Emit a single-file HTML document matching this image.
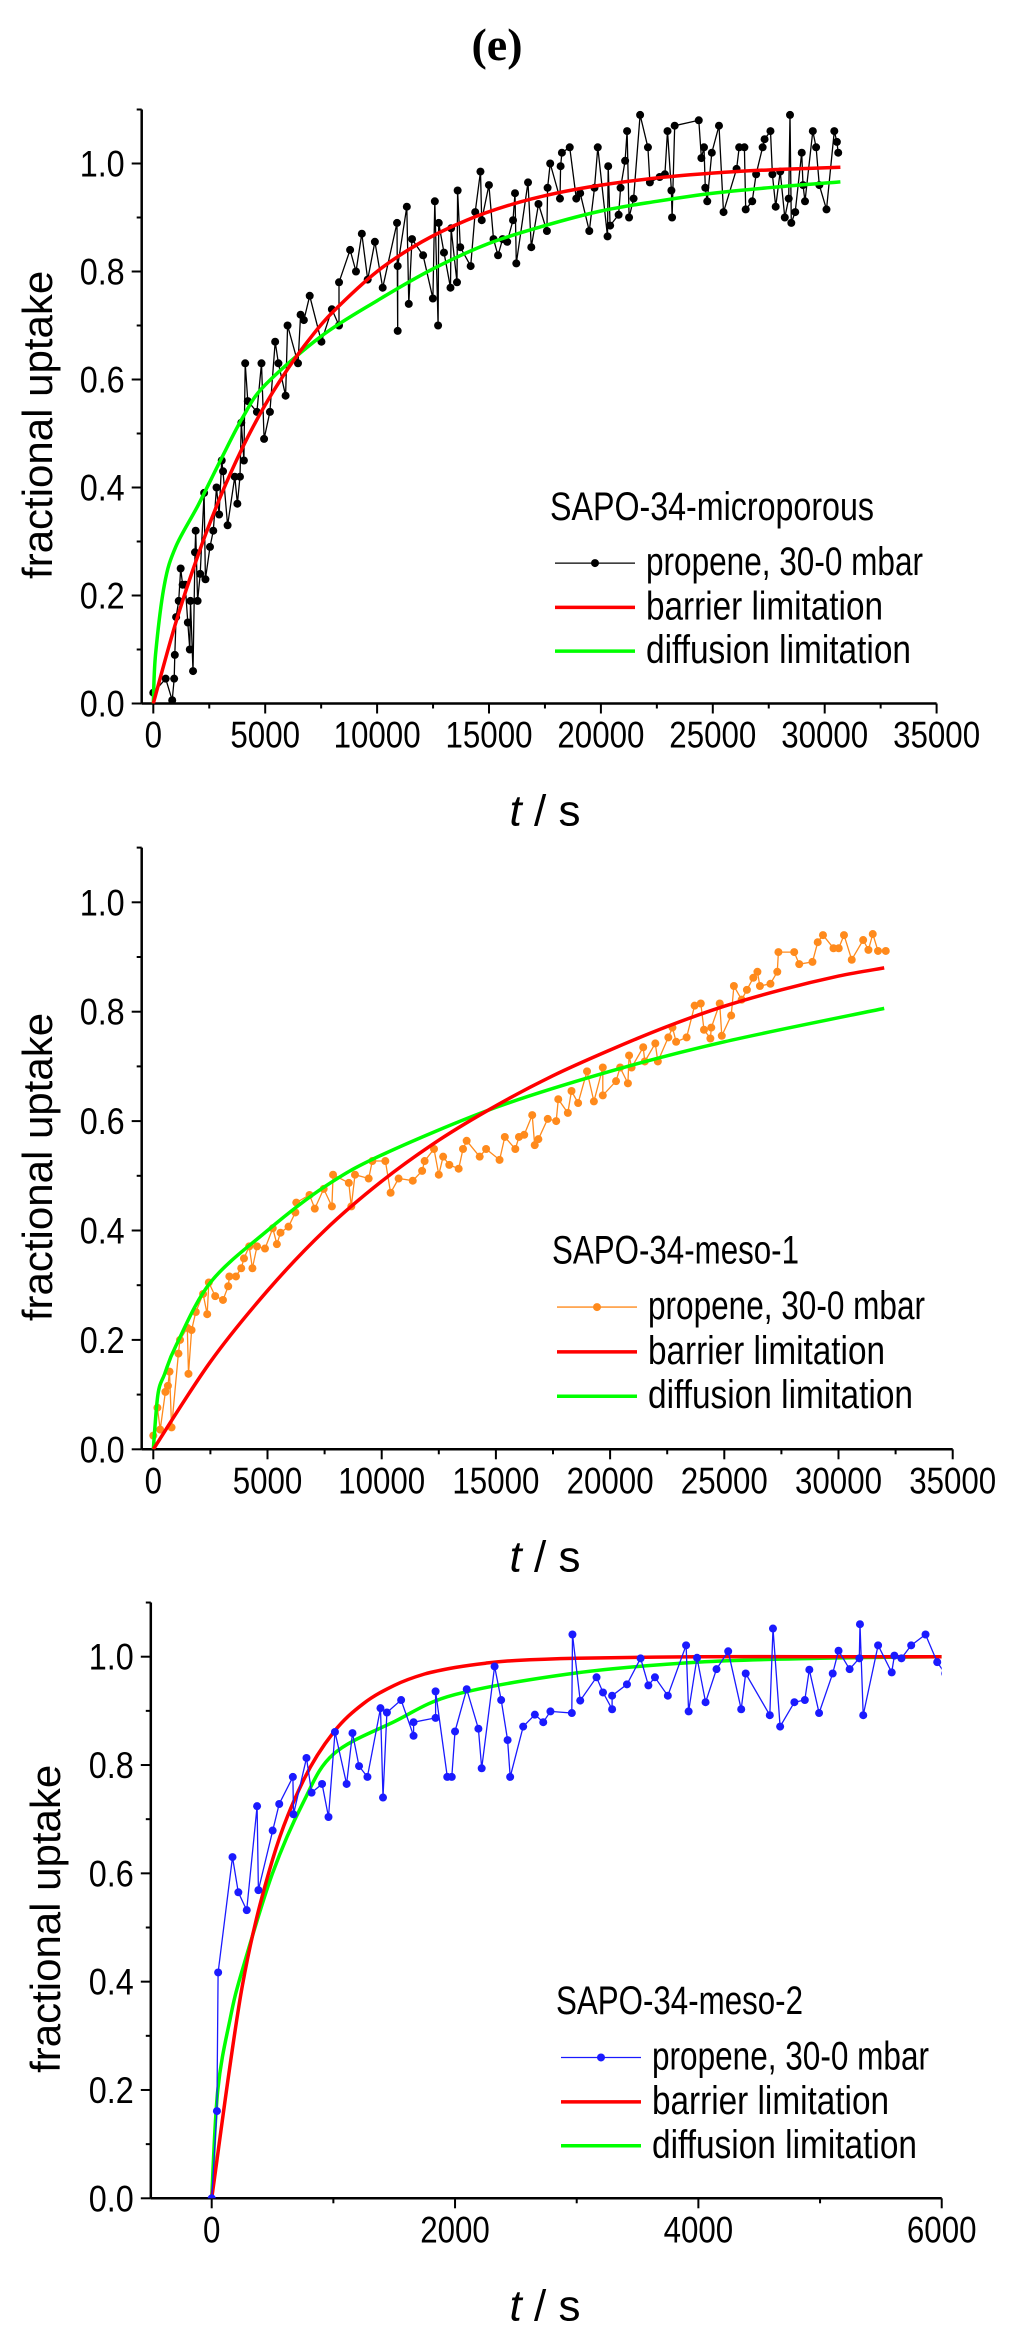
<!DOCTYPE html>
<html><head><meta charset="utf-8">
<style>
html,body{margin:0;padding:0;background:#fff;}
svg{display:block;}
text{font-family:"Liberation Sans",Arial,sans-serif;fill:#000;}
</style></head>
<body>
<svg id="fig" xmlns="http://www.w3.org/2000/svg" width="1024" height="2339" viewBox="0 0 1024 2339">
<rect width="1024" height="2339" fill="#fff"/>
<text x="497" y="60" text-anchor="middle" style="font-family:'Liberation Serif',serif;font-weight:bold;font-size:46px">(e)</text>
</svg>
<script>
// ---------- Chart 1: SAPO-34-microporous ----------
const c1T = [0,553,845,932,961,1019,1136,1223,1310,1427,1543,1631,1660,1776,1864,1893,1980,2097,2271,2330,2533,2679,2825,2941,3058,3116,3320,3640,3756,3873,3931,4048,4106,4222,4630,4834,4950,5212,5445,5591,5911,5999,6465,6581,6727,6989,7513,7979,8299,8299,8794,9056,9318,9580,9901,10250,10891,10920,10920,11328,11415,11561,12056,12492,12580,12725,12754,12988,13279,13308,13570,13599,13716,14181,14385,14618,14676,14997,15201,15404,15608,15812,16074,16162,16220,16744,16890,17210,17588,17618,17734,18171,18200,18258,18608,18899,19074,19481,19714,19860,20297,20326,20413,20792,20879,21083,21170,21258,21461,21752,22102,22189,22626,22859,22976,23150,23180,23296,24373,24490,24606,24665,24752,24956,25276,25480,26062,26179,26412,26470,26761,26936,27227,27314,27576,27663,27810,28013,28217,28392,28450,28508,28683,28974,29032,29120,29469,29615,29760,30080,30429,30545,30604,30691];
const c1Y = [0.02,0.046,0.006,0.046,0.09,0.16,0.19,0.25,0.22,0.22,0.15,0.10,0.19,0.06,0.28,0.32,0.19,0.24,0.39,0.23,0.29,0.32,0.40,0.35,0.45,0.43,0.33,0.42,0.37,0.42,0.52,0.45,0.63,0.56,0.54,0.63,0.49,0.54,0.67,0.63,0.57,0.70,0.63,0.72,0.71,0.755,0.67,0.73,0.70,0.78,0.84,0.80,0.87,0.785,0.855,0.77,0.89,0.69,0.81,0.92,0.74,0.86,0.83,0.75,0.93,0.70,0.89,0.835,0.77,0.88,0.78,0.95,0.845,0.81,0.91,0.985,0.895,0.96,0.86,0.83,0.86,0.855,0.895,0.945,0.815,0.965,0.845,0.925,0.875,0.955,1.0,0.935,0.995,1.02,1.03,0.935,0.945,0.875,0.955,1.03,0.865,0.995,0.885,0.905,0.955,1.005,1.06,0.90,0.935,1.09,1.03,0.965,0.975,0.98,1.06,0.95,0.90,1.07,1.08,1.01,1.03,0.955,0.93,1.02,1.07,0.91,0.99,1.03,1.03,0.915,0.93,0.98,1.03,1.045,1.06,0.98,0.92,0.985,0.90,0.935,1.09,0.89,0.91,1.02,0.96,0.93,1.06,1.03,0.96,0.915,1.06,1.04,1.02];
const c1BarT = [0,1000,2000,3000,4000,5000,6000,7000,8000,10000,12000,14000,16000,18000,20000,22000,24000,26000,28000,30700];
const c1BarY = [0,0.149,0.275,0.383,0.475,0.553,0.619,0.676,0.724,0.800,0.855,0.895,0.924,0.945,0.960,0.971,0.979,0.985,0.989,0.993];
const c1DifT = [0,100,495,1000,2000,3000,4000,5000,7500,10000,12500,15000,17500,20000,22500,25000,28000,30700];
const c1DifY = [0,0.09,0.22,0.29,0.367,0.45,0.53,0.59,0.68,0.746,0.805,0.852,0.885,0.912,0.93,0.945,0.957,0.966];

// ---------- Chart 2: SAPO-34-meso-1 ----------
const c2T = [0,180,300,530,640,710,800,1100,1170,1490,1540,1675,1860,2180,2360,2430,2710,3050,3280,3330,3620,3850,3970,4200,4340,4540,4890,5230,5410,5570,5920,6220,6260,6840,7070,7460,7820,7870,8560,8670,8830,9430,9590,10160,10390,10740,11360,11770,11880,12290,12500,12690,12960,13370,13560,13720,14290,14570,15160,15390,15850,16010,16240,16590,16700,16860,17270,17640,17730,18150,18310,18600,18990,19290,19680,19680,20260,20440,20780,20830,20940,21450,21520,21980,22090,22550,22730,22890,23350,23700,23970,24110,24390,24430,24800,24890,25300,25420,25760,25990,26270,26450,26560,27020,27320,27370,28060,28280,28860,29090,29320,29780,30010,30240,30580,31080,31310,31500,31730,32070];
const c2Y = [0.025,0.076,0.036,0.105,0.116,0.142,0.04,0.175,0.2,0.222,0.138,0.218,0.251,0.284,0.247,0.305,0.28,0.273,0.298,0.316,0.316,0.331,0.349,0.371,0.331,0.371,0.367,0.404,0.375,0.396,0.407,0.433,0.451,0.465,0.44,0.476,0.444,0.502,0.487,0.444,0.502,0.495,0.527,0.527,0.469,0.495,0.491,0.509,0.527,0.549,0.502,0.535,0.52,0.513,0.549,0.564,0.535,0.549,0.529,0.571,0.549,0.571,0.575,0.611,0.556,0.567,0.604,0.6,0.64,0.615,0.655,0.633,0.691,0.636,0.698,0.647,0.673,0.698,0.669,0.72,0.698,0.735,0.709,0.742,0.709,0.753,0.771,0.745,0.753,0.811,0.815,0.767,0.751,0.771,0.815,0.756,0.793,0.847,0.822,0.84,0.862,0.873,0.847,0.851,0.873,0.909,0.909,0.887,0.891,0.927,0.94,0.916,0.916,0.94,0.895,0.931,0.913,0.942,0.911,0.911];
const c2BarT = [0,2500,5000,7500,10000,12500,15000,17500,20000,22500,25000,27500,30000,32000];
const c2BarY = [0,0.16,0.29,0.40,0.49,0.565,0.628,0.683,0.73,0.773,0.81,0.84,0.865,0.88];
const c2DifT = [0,200,500,1000,2500,5000,7500,10000,15000,20000,25000,32000];
const c2DifY = [0,0.1,0.138,0.19,0.305,0.40,0.48,0.538,0.625,0.691,0.745,0.806];

// ---------- Chart 3: SAPO-34-meso-2 ----------
const c3T = [0,43,53,171,219,288,373,384,501,555,667,672,779,821,907,960,1013,1109,1157,1211,1280,1387,1408,1440,1557,1659,1659,1840,1840,1936,1973,2000,2096,2192,2219,2325,2379,2432,2453,2560,2656,2725,2784,2960,2965,3029,3163,3216,3291,3291,3413,3525,3589,3643,3749,3899,3920,3989,4059,4149,4245,4352,4389,4587,4613,4672,4789,4875,4912,4992,5104,5152,5243,5323,5328,5355,5477,5589,5611,5669,5749,5867,5963,6027];
const c3Y = [0,0.161,0.417,0.63,0.565,0.532,0.724,0.569,0.679,0.728,0.778,0.709,0.813,0.749,0.765,0.704,0.861,0.765,0.859,0.798,0.778,0.905,0.74,0.897,0.92,0.854,0.879,0.887,0.936,0.778,0.778,0.862,0.94,0.867,0.794,0.982,0.92,0.846,0.778,0.871,0.893,0.879,0.899,0.896,1.041,0.919,0.962,0.934,0.903,0.928,0.949,0.997,0.947,0.962,0.928,1.021,0.899,0.998,0.916,0.977,1.01,0.903,0.969,0.892,1.052,0.871,0.916,0.92,0.976,0.896,0.969,1.011,0.977,0.997,1.06,0.892,1.021,0.971,1.002,0.997,1.021,1.041,0.99,0.969];
const c3BarT = [0,250,500,750,1000,1250,1500,1750,2000,2250,2500,3000,4000,5000,6000];
const c3BarY = [0,0.39,0.625,0.77,0.86,0.914,0.947,0.968,0.98,0.988,0.993,0.997,1.0,1.0,1.0];
const c3DifT = [0,50,150,250,500,750,1000,1500,2000,3000,4000,5000,6000];
const c3DifY = [0,0.2,0.33,0.42,0.6,0.73,0.82,0.88,0.93,0.97,0.99,0.997,1.0];

// tick label arrays
const xTicks1 = [0,5000,10000,15000,20000,25000,30000,35000];
const xTicks3 = [0,2000,4000,6000];
const yTicks = [0.0,0.2,0.4,0.6,0.8,1.0];
const legendLabels = ["propene, 30-0 mbar","barrier limitation","diffusion limitation"];

const NS = "http://www.w3.org/2000/svg";
const svg = document.getElementById('fig');
function mk(tag, attrs, parent){
  const e = document.createElementNS(NS, tag);
  for (const k in attrs) e.setAttribute(k, attrs[k]);
  (parent||svg).appendChild(e);
  return e;
}
function smoothPath(P){
  let d = 'M' + P[0][0].toFixed(1) + ',' + P[0][1].toFixed(1);
  for (let i = 0; i < P.length - 1; i++) {
    const p0 = P[Math.max(0, i - 1)], p1 = P[i], p2 = P[i + 1], p3 = P[Math.min(P.length - 1, i + 2)];
    const c1x = p1[0] + (p2[0] - p0[0]) / 6, c1y = p1[1] + (p2[1] - p0[1]) / 6;
    const c2x = p2[0] - (p3[0] - p1[0]) / 6, c2y = p2[1] - (p3[1] - p1[1]) / 6;
    d += ' C' + c1x.toFixed(1) + ',' + c1y.toFixed(1) + ' ' + c2x.toFixed(1) + ',' + c2y.toFixed(1) + ' ' + p2[0].toFixed(1) + ',' + p2[1].toFixed(1);
  }
  return d;
}

function drawChart(cfg){
  const g = mk('g', {});
  
  
  const X = v => cfg.x0 + v * cfg.pxPerX;
  const Y = v => cfg.y0 - v * cfg.pxPerY;
  const top = Y(1.1), right = X(cfg.xMax), left = cfg.axisX;
  const clipId = cfg.name + '-clip';
  const defs = mk('defs', {}, g);
  const cp = mk('clipPath', {id: clipId}, defs);
  mk('rect', {x: left, y: top - 10, width: right - left, height: cfg.y0 - top + 10}, cp);

  const yAxis = mk('line', {x1: left, y1: top, x2: left, y2: cfg.y0, stroke: '#000', 'stroke-width': 2.5}, g);
  
  
  const xAxis = mk('line', {x1: left, y1: cfg.y0, x2: right, y2: cfg.y0, stroke: '#000', 'stroke-width': 2.5}, g);
  
  
  mk('line', {x1: left - 5, y1: top, x2: left, y2: top, stroke: '#000', 'stroke-width': 2}, g);

  for (let i = 0; i <= 10; i++) {
    const y = Y(i / 10), major = i % 2 === 0;
    mk('line', {x1: left - (major ? 10 : 5), y1: y, x2: left, y2: y, stroke: '#000', 'stroke-width': 2}, g);
  }
  yTicks.forEach(v => {
    const t = mk('text', {x: left - 17, y: Y(v) + 13, 'text-anchor': 'end', 'font-size': 37, textLength: 45, lengthAdjust: 'spacingAndGlyphs'}, g);
    t.textContent = v.toFixed(1);
    
    
  });
  for (let v = cfg.minorStep; v < cfg.xMax; v += 2 * cfg.minorStep) {
    mk('line', {x1: X(v), y1: cfg.y0, x2: X(v), y2: cfg.y0 + 5, stroke: '#000', 'stroke-width': 2}, g);
  }
  cfg.xTicks.forEach(v => {
    mk('line', {x1: X(v), y1: cfg.y0, x2: X(v), y2: cfg.y0 + 10, stroke: '#000', 'stroke-width': 2}, g);
    const s = String(v);
    const t = mk('text', {x: X(v), y: cfg.y0 + 44, 'text-anchor': 'middle', 'font-size': 37, textLength: s.length * 17.4, lengthAdjust: 'spacingAndGlyphs'}, g);
    t.textContent = s;
    
    
  });

  const yt = mk('text', {transform: `translate(${cfg.yTitleX},${Y(0.516)}) rotate(-90)`, 'text-anchor': 'middle', 'font-size': 42}, g);
  yt.textContent = 'fractional uptake';
  
  
  const xt = mk('text', {x: 545, y: cfg.y0 + 122, 'text-anchor': 'middle', 'font-size': 44, 'xml:space': 'preserve'}, g);
  xt.innerHTML = '<tspan font-style="italic">t</tspan>  /  s';
  
  

  const plot = mk('g', {'clip-path': `url(#${clipId})`}, g);
  const pts = (ts, ys) => ts.map((t, i) => X(t).toFixed(1) + ',' + Y(ys[i]).toFixed(1)).join(' ');
  const arr = (ts, ys) => ts.map((t, i) => [X(t), Y(ys[i])]);
  const gl = mk('path', {d: smoothPath(arr(cfg.difT, cfg.difY)), fill: 'none', stroke: '#00ff00', 'stroke-width': 3.5, 'stroke-linejoin': 'round'}, plot);
  
  
  const rl = mk('path', {d: smoothPath(arr(cfg.barT, cfg.barY)), fill: 'none', stroke: '#ff0000', 'stroke-width': 3.5, 'stroke-linejoin': 'round'}, plot);
  
  
  const dl = mk('polyline', {points: pts(cfg.dataT, cfg.dataY), fill: 'none', stroke: cfg.color, 'stroke-width': 1.3}, plot);
  
  
  cfg.dataT.forEach((t, i) => {
    const c = mk('circle', {cx: X(t), cy: Y(cfg.dataY[i]), r: 4, fill: cfg.color}, plot);
    
    
  });
  if (cfg.name !== 'chart-meso-2') { plot.appendChild(gl); plot.appendChild(rl); }

  const lg = mk('g', {}, g);
  
  
  const lt = mk('text', {x: cfg.legX - 5, y: Y(0.34), 'font-size': 40, textLength: cfg.titleW, lengthAdjust: 'spacingAndGlyphs'}, lg);
  lt.textContent = cfg.title;
  
  
  const rows = [0.26, 0.178, 0.097], cols = [cfg.color, '#ff0000', '#00ff00'], widths = [277, 237, 265];
  rows.forEach((rv, i) => {
    const y = Y(rv);
    const ln = mk('line', {x1: cfg.legX, y1: y, x2: cfg.legX + 80, y2: y, stroke: cols[i], 'stroke-width': i === 0 ? 1.3 : 3.5}, lg);
    
    
    if (i === 0) mk('circle', {cx: cfg.legX + 40, cy: y, r: 4, fill: cfg.color}, lg);
    const tx = mk('text', {x: cfg.legX + 91, y: y + 12, 'font-size': 40, textLength: widths[i], lengthAdjust: 'spacingAndGlyphs'}, lg);
    tx.textContent = legendLabels[i];
    
    
  });
}

drawChart({name: 'chart-microporous', axisX: 141.7, x0: 153.3, pxPerX: 111.9 / 5000, xMax: 35000, y0: 703.5, pxPerY: 540,
  xTicks: xTicks1, minorStep: 2500, yTitleX: 52, color: '#000000', dataT: c1T, dataY: c1Y, barT: c1BarT, barY: c1BarY, difT: c1DifT, difY: c1DifY,
  legX: 555, title: 'SAPO-34-microporous', titleW: 324});
drawChart({name: 'chart-meso-1', axisX: 141.7, x0: 153.3, pxPerX: 114.2 / 5000, xMax: 35000, y0: 1449.3, pxPerY: 547,
  xTicks: xTicks1, minorStep: 2500, yTitleX: 52, color: '#ff8a1c', dataT: c2T, dataY: c2Y, barT: c2BarT, barY: c2BarY, difT: c2DifT, difY: c2DifY,
  legX: 557, title: 'SAPO-34-meso-1', titleW: 247});
drawChart({name: 'chart-meso-2', axisX: 150.8, x0: 211.7, pxPerX: 121.67 / 1000, xMax: 6000, y0: 2198.3, pxPerY: 541.6,
  xTicks: xTicks3, minorStep: 1000, yTitleX: 60, color: '#1a1aff', dataT: c3T, dataY: c3Y, barT: c3BarT, barY: c3BarY, difT: c3DifT, difY: c3DifY,
  legX: 561, title: 'SAPO-34-meso-2', titleW: 247});
</script>
</body></html>
